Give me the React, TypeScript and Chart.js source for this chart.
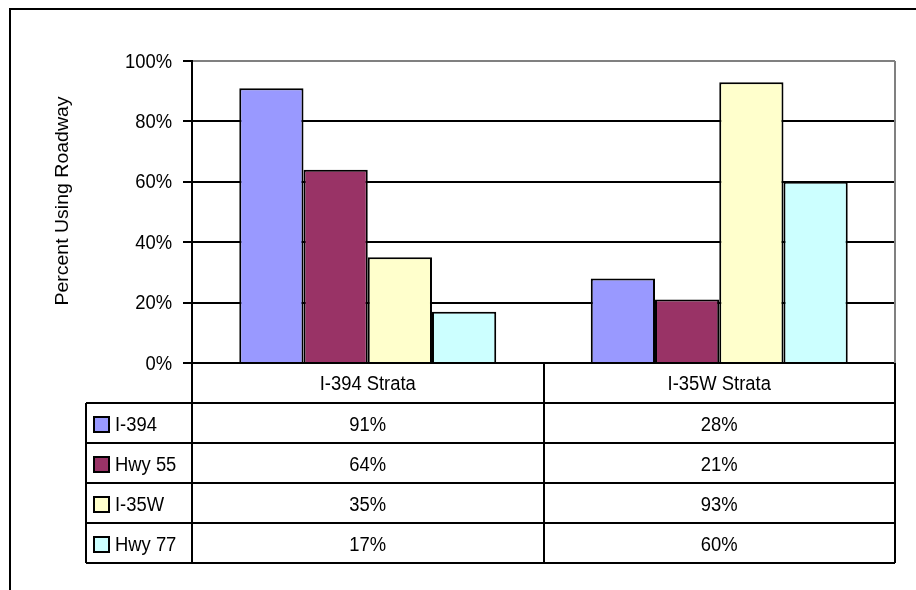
import React, { useEffect, useRef } from "react";
import { Chart, registerables } from "chart.js";

Chart.register(...registerables);

// Strata (x categories) and the share of respondents using each roadway, in percent
const categories = ["I-394 Strata", "I-35W Strata"];
const seriesNames = ["I-394", "Hwy 55", "I-35W", "Hwy 77"];
const i394Values = [91, 28];
const hwy55Values = [64, 21];
const i35wValues = [35, 93];
const hwy77Values = [17, 60];
const seriesColors = ["#9999FF", "#993366", "#FFFFCC", "#CCFFFF"];
const yTickValues = [0, 20, 40, 60, 80, 100];
const yAxisTitle = "Percent Using Roadway";

const FONT = "'Liberation Sans', Arial, Helvetica, sans-serif";
const FONT_SIZE = 20;
const SQUEEZE = 0.92; // slightly condensed lettering

function drawText(
  ctx: CanvasRenderingContext2D,
  text: string,
  x: number,
  y: number,
  align: CanvasTextAlign
) {
  ctx.save();
  ctx.translate(x, y);
  ctx.scale(SQUEEZE, 1);
  ctx.textAlign = align;
  ctx.textBaseline = "middle";
  ctx.fillText(text, 0, 0);
  ctx.restore();
}

// Draws the frame, plot border, axis labels and the data table under the plot
const tablePlugin = {
  id: "dataTable",
  afterDraw(chart: any) {
    const ctx = chart.ctx as CanvasRenderingContext2D;
    const { left, right, top, bottom } = chart.chartArea;
    const yScale = chart.scales.y;
    const datasets = chart.data.datasets;
    const rowH = 40;
    const legendLeft = 86;
    const colW = (right - left) / categories.length;
    const tableBottom = bottom + rowH * (datasets.length + 1);

    ctx.save();

    // outer frame
    ctx.strokeStyle = "#000";
    ctx.lineWidth = 2;
    ctx.strokeRect(10, 9, 1000, 1000);

    // right plot-area border
    ctx.strokeStyle = "#808080";
    ctx.beginPath();
    ctx.moveTo(Math.round(right), top);
    ctx.lineTo(Math.round(right), bottom);
    ctx.stroke();

    ctx.fillStyle = "#000";
    ctx.font = `${FONT_SIZE}px ${FONT}`;

    // y tick labels
    yTickValues.forEach((v) => {
      drawText(ctx, `${v}%`, left - 20, yScale.getPixelForValue(v) + 1, "right");
    });

    // axis title
    ctx.save();
    ctx.font = `19.5px ${FONT}`;
    ctx.translate(63, 201);
    ctx.scale(SQUEEZE, 1);
    ctx.rotate(-Math.PI / 2);
    ctx.textAlign = "center";
    ctx.textBaseline = "middle";
    ctx.fillText(yAxisTitle, 0, 0);
    ctx.restore();

    // table grid
    ctx.strokeStyle = "#000";
    ctx.lineWidth = 2;
    ctx.beginPath();
    for (let i = 1; i <= datasets.length + 1; i++) {
      const y = Math.round(bottom + i * rowH);
      ctx.moveTo(legendLeft, y);
      ctx.lineTo(right, y);
    }
    for (let c = 0; c <= categories.length; c++) {
      const x = Math.round(left + c * colW);
      ctx.moveTo(x, bottom);
      ctx.lineTo(x, tableBottom);
    }
    ctx.moveTo(legendLeft, bottom + rowH);
    ctx.lineTo(legendLeft, tableBottom);
    ctx.stroke();

    // header row: category names
    categories.forEach((cat, c) => {
      drawText(ctx, cat, left + (c + 0.5) * colW, bottom + rowH / 2 + 1, "center");
    });

    // one row per series: legend key + values
    datasets.forEach((ds: any, r: number) => {
      const cy = bottom + (r + 1.5) * rowH + 2;
      ctx.fillStyle = ds.backgroundColor;
      ctx.fillRect(94, cy - 8, 15, 15);
      ctx.strokeStyle = "#000";
      ctx.lineWidth = 2;
      ctx.strokeRect(94, cy - 8, 15, 15);
      ctx.fillStyle = "#000";
      drawText(ctx, ds.label, 115, cy, "left");
      ds.data.forEach((v: number, c: number) => {
        drawText(ctx, `${v}%`, left + (c + 0.5) * colW, cy, "center");
      });
    });

    ctx.restore();
  },
};

export default function App() {
  const canvasRef = useRef<HTMLCanvasElement | null>(null);

  useEffect(() => {
    if (!canvasRef.current) return;
    const values = [i394Values, hwy55Values, i35wValues, hwy77Values];
    const chart = new Chart(canvasRef.current, {
      type: "bar",
      data: {
        labels: categories,
        datasets: seriesNames.map((name, i) => ({
          label: name,
          data: values[i],
          backgroundColor: seriesColors[i],
          borderColor: "#000",
          borderWidth: 2,
          categoryPercentage: 0.731,
          barPercentage: 1,
        })),
      },
      options: {
        responsive: false,
        animation: false,
        devicePixelRatio: 1,
        layout: { padding: { left: 0, top: 61, right: 21, bottom: 227 } },
        plugins: {
          legend: { display: false },
          tooltip: { enabled: false },
          title: { display: false },
        },
        scales: {
          x: { display: false },
          y: {
            min: 0,
            max: 100,
            afterFit: (s: any) => {
              s.width = 192;
            },
            afterBuildTicks: (s: any) => {
              s.ticks = yTickValues.map((v) => ({ value: v }));
            },
            ticks: { display: false },
            grid: {
              color: (c: any) => (c.tick && c.tick.value === 100 ? "#808080" : "#000"),
              tickColor: "#000",
              lineWidth: 2,
              tickLength: 9,
              drawTicks: true,
            },
            border: { display: true, color: "#000", width: 2 },
          },
        },
      },
      plugins: [tablePlugin],
    });
    return () => chart.destroy();
  }, []);

  return (
    <div style={{ position: "fixed", left: 0, top: 0, width: 916, height: 590, background: "#fff" }}>
      <canvas ref={canvasRef} width={916} height={590} />
    </div>
  );
}
